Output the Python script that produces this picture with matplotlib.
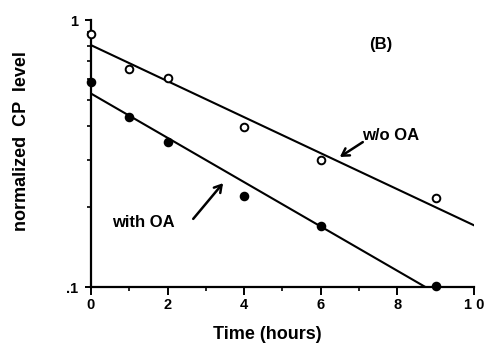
import numpy as np
import matplotlib
matplotlib.use("Agg")
import matplotlib.pyplot as plt
from matplotlib.ticker import FixedLocator, NullFormatter

plt.rcParams['font.family'] = ['Liberation Sans', 'DejaVu Sans']
plt.rcParams['font.weight'] = 'bold'

# CP decay, normalized level vs time
hours = [0, 1, 2, 4, 6, 9]
cp_without_oa = [0.89, 0.653, 0.604, 0.396, 0.298, 0.216]
cp_with_oa = [0.587, 0.434, 0.349, 0.219, 0.170, 0.1007]

x_ticks = [0, 2, 4, 6, 8, 10]
x_tick_labels = ["0", "2", "4", "6", "8", "1 0"]
y_ticks = [0.1, 1]
y_tick_labels = [".1", "1"]

fig = plt.figure(figsize=(4.84, 3.45), dpi=100)
ax = fig.add_axes([0.188, 0.168, 0.791, 0.774])

ax.set_yscale('log')
ax.set_xlim(0, 10)
ax.set_ylim(0.1, 1)

t = np.asarray(hours, dtype=float)
fit_x = np.linspace(0, 10, 200)
for values, face in [(cp_without_oa, 'white'), (cp_with_oa, 'black')]:
    # exponential fit = straight line on log axis
    slope, icpt = np.polyfit(t, np.log10(values), 1)
    ax.plot(fit_x, 10 ** (icpt + slope * fit_x), color='black', lw=1.5, zorder=2)
    ax.plot(t, values, 'o', ms=5.5, mfc=face, mec='black', mew=1.4,
            clip_on=False, zorder=3)

ax.set_xticks(x_ticks)
ax.set_xticklabels(x_tick_labels, fontsize=10.5, fontweight='bold')
ax.xaxis.set_minor_locator(FixedLocator([1, 3, 5, 7, 9]))
ax.set_yticks(y_ticks)
ax.set_yticklabels(y_tick_labels, fontsize=10.5, fontweight='bold')
ax.yaxis.set_minor_locator(FixedLocator([0.2, 0.3, 0.4, 0.5, 0.6, 0.7, 0.8, 0.9]))
ax.yaxis.set_minor_formatter(NullFormatter())

ax.tick_params(axis='x', which='major', length=6, width=1.4, pad=2)
ax.tick_params(axis='x', which='minor', length=3, width=1.2)
ax.tick_params(axis='y', which='major', length=4.5, width=1.4, pad=5)
ax.tick_params(axis='y', which='minor', length=3, width=1.2)

for side in ['top', 'right']:
    ax.spines[side].set_visible(False)
for side in ['left', 'bottom']:
    ax.spines[side].set_linewidth(1.6)

ax.set_xlabel("Time (hours)", fontsize=13, fontweight='bold', labelpad=8)
ax.xaxis.set_label_coords(0.46, -0.145)
fig.text(0.045, 0.59, "normalized  CP  level", rotation=90, fontsize=13,
         fontweight='bold', ha='center', va='center')

ax.text(7.57, 0.813, "(B)", fontsize=12, fontweight='bold', ha='center', va='center')
ax.text(7.83, 0.370, "w/o OA", fontsize=12, fontweight='bold', ha='center', va='center')
ax.text(1.37, 0.175, "with OA", fontsize=12, fontweight='bold', ha='center', va='center')

arrow = dict(arrowstyle='->,head_length=0.5,head_width=0.3', lw=1.8, color='black',
             shrinkA=0, shrinkB=0)
ax.annotate("", xy=(6.50, 0.307), xytext=(7.10, 0.349), arrowprops=arrow)
ax.annotate("", xy=(3.45, 0.245), xytext=(2.67, 0.180), arrowprops=arrow)

fig.savefig("out.png", dpi=100)
